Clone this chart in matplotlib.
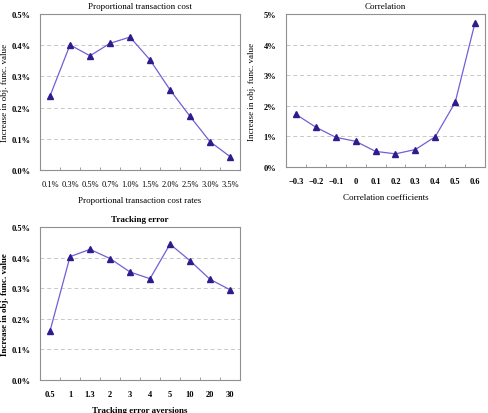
import numpy as np
import matplotlib.pyplot as plt
from matplotlib.ticker import FuncFormatter

plt.rcParams['font.family'] = ['Liberation Serif', 'DejaVu Serif']

cost_labels = ['0.1%', '0.3%', '0.5%', '0.7%', '1.0%', '1.5%', '2.0%', '2.5%', '3.0%', '3.5%']
cost_vals = [0.237, 0.401, 0.366, 0.406, 0.426, 0.353, 0.257, 0.172, 0.091, 0.043]

corr_labels = ['\u22120.3', '\u22120.2', '\u22120.1', '0', '0.1', '0.2', '0.3', '0.4', '0.5', '0.6']
corr_vals = [1.72, 1.30, 0.97, 0.84, 0.51, 0.43, 0.57, 0.99, 2.11, 4.72]

track_labels = ['0.5', '1', '1.3', '2', '3', '4', '5', '10', '20', '30']
track_vals = [0.160, 0.403, 0.427, 0.397, 0.353, 0.331, 0.444, 0.390, 0.329, 0.295]

line_col = '#7060d8'
mark_col = '#2e1c8c'
frame_col = '#909090'


def panel(ax, labels, vals, title, xlabel, ymax, step, fmt, ylab_x, bold=False, xbold=False):
    w = 'bold' if bold else 'normal'
    x = np.arange(len(labels))
    ax.plot(x, vals, color=line_col, lw=0.9, marker='^', ms=5,
            mfc=mark_col, mec=mark_col, zorder=3)
    ax.set_xlim(-0.5, len(labels) - 0.5)
    ax.set_ylim(0, ymax)
    ticks = np.arange(0, ymax + step / 2, step)
    ax.set_yticks(ticks)
    ax.yaxis.set_major_formatter(FuncFormatter(fmt))
    for t in ticks[1:-1]:
        ax.axhline(t, color='#c8c8c8', lw=0.7, ls=(0, (4, 3)), zorder=1)
    ax.set_xticks(x)
    ax.set_xticklabels(labels)
    ax.set_xticks(np.arange(-0.5, len(labels)), minor=True)
    ax.tick_params(axis='x', which='major', length=0, labelsize=6, pad=7)
    ax.tick_params(axis='x', which='minor', length=2, direction='in', color=frame_col)
    ax.tick_params(axis='y', length=0, labelsize=6, pad=7)
    for lab in ax.get_yticklabels():
        lab.set_fontweight('bold')
    for lab in ax.get_xticklabels():
        lab.set_fontweight('bold' if (bold or xbold) else 'normal')
    for s in ax.spines.values():
        s.set_color(frame_col)
    ax.set_title(title, fontsize=6.5, fontweight=w, pad=4)
    ax.set_xlabel(xlabel, fontsize=6.5, fontweight=w, labelpad=6)
    ax.set_ylabel('Increase in obj. func. value', fontsize=6.5, fontweight=w)
    ax.yaxis.set_label_coords(ylab_x, 0.5)


fig = plt.figure(figsize=(4.89, 4.14), dpi=100)
ax1 = fig.add_axes([40 / 489, 1 - 171 / 414, 200 / 489, 156 / 414])
ax2 = fig.add_axes([286 / 489, 1 - 168 / 414, 199 / 489, 153 / 414])
ax3 = fig.add_axes([40 / 489, 1 - 381 / 414, 200 / 489, 153 / 414])

panel(ax1, cost_labels, cost_vals, 'Proportional transaction cost',
      'Proportional transaction cost rates', 0.5, 0.1, lambda v, p: f'{v:.1f}%', -0.155)
panel(ax2, corr_labels, corr_vals, 'Correlation',
      'Correlation coefficients', 5, 1, lambda v, p: f'{v:.0f}%', -0.15, xbold=True)
panel(ax3, track_labels, track_vals, 'Tracking error',
      'Tracking error aversions', 0.5, 0.1, lambda v, p: f'{v:.1f}%', -0.155, bold=True)

fig.savefig('out.png', dpi=100)
